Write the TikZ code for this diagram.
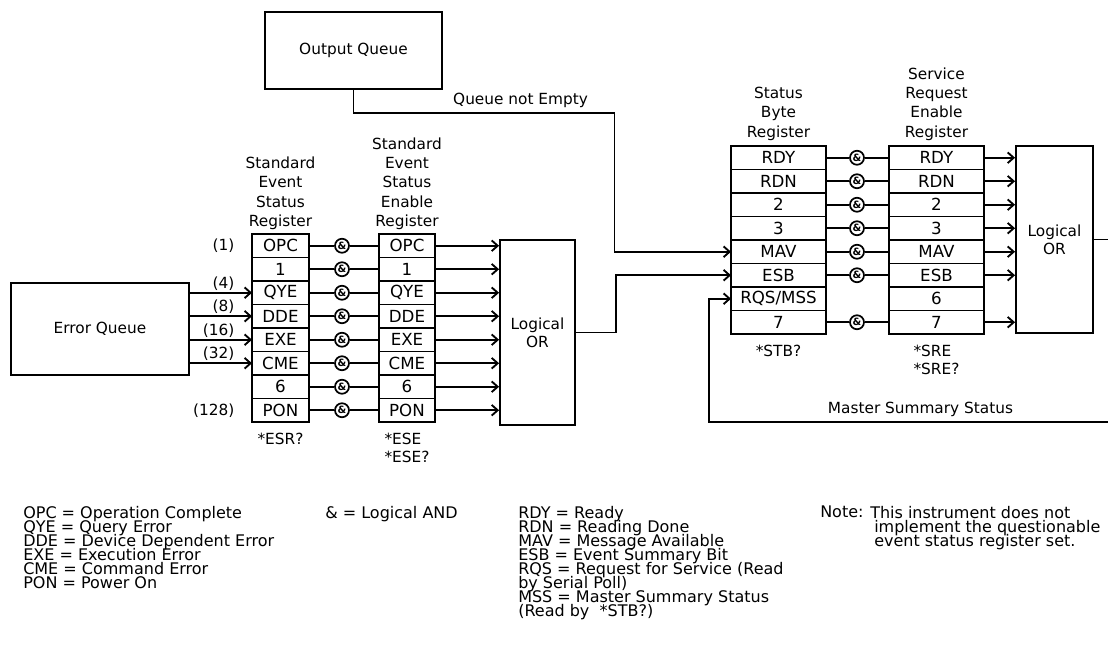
\documentclass[tikz,border=0pt]{standalone}
\usepackage{fontspec}
\setmainfont{DejaVu Sans}
\usepackage{tikz}
\usetikzlibrary{arrows.meta, positioning}
\newcommand{\legendfont}{\fontsize{12}{10.5}\selectfont\lineskiplimit=-6pt\relax}

\begin{document}
\begin{tikzpicture}[
    x=0.75pt, y=-0.75pt,
    font=\fontsize{11.5}{13.5}\selectfont,
    box/.style={rectangle, draw, line width=1.4pt, align=center, inner sep=0pt},
    cell/.style={rectangle, draw, line width=1.4pt, minimum height=17.6pt, inner sep=0pt, outer sep=0pt, font=\fontsize{12.5}{13.5}\selectfont},
    andgate/.style={circle, draw, line width=1.3pt, minimum size=10.5pt, inner sep=0pt, font=\fontsize{7.5}{7.5}\selectfont\bfseries},
    head/.style={align=center, inner sep=1pt, font=\fontsize{11.5}{14.5}\selectfont},
    query/.style={align=left, inner sep=1pt, font=\fontsize{11.5}{14}\selectfont},
    weight/.style={inner sep=1pt},
    legend/.style={align=left, anchor=north west, inner sep=0pt, font=\legendfont},
    line/.style={line width=1.4pt},
    arrow/.style={-{Straight Barb[length=4.5pt, width=8pt, line width=1.4pt]}, line width=1.4pt}
]
\useasboundingbox (0,0) rectangle (1108,656);

\node (oq) [box, minimum width=132.75pt, minimum height=57.75pt] at (353.5,50.5) {Output Queue};
\node (eq) [box, minimum width=133.5pt, minimum height=69pt] at (100,329) {Error Queue};
\node (orl) [box, minimum width=56.25pt, minimum height=138.75pt] at (537.5,332.5) {Logical\\OR};
\node (orr) [box, minimum width=57.75pt, minimum height=140.25pt] at (1054.5,239.5) {Logical\\OR};

\foreach \t [count=\i] in {OPC,1,QYE,DDE,EXE,CME,6,PON} {
    \node (sesr-\i) [cell, minimum width=42.75pt] at (280.5,{222.25+23.5*\i}) {\t};
    \node (seser-\i) [cell, minimum width=42pt] at (407,{222.25+23.5*\i}) {\t};
    \node (and-\i) [andgate] at (342,{222.25+23.5*\i}) {\&};
    \draw [line] (sesr-\i) -- (and-\i) -- (seser-\i);
    \draw [arrow] (seser-\i.east) -- (seser-\i.east -| orl.west);
}

\foreach \s/\e [count=\i] in {RDY/RDY,RDN/RDN,2/2,3/3,MAV/MAV,ESB/ESB,{RQS/MSS}/6,7/7} {
    \node (sbr-\i) [cell, minimum width=71.25pt] at (778.5,{134.25+23.5*\i}) {\s};
    \node (srer-\i) [cell, minimum width=71.25pt] at (936.5,{134.25+23.5*\i}) {\e};
}
\foreach \i in {1,...,6,8} {
    \node (sand-\i) [andgate] at (857,{134.25+23.5*\i}) {\&};
    \draw [line] (sbr-\i) -- (sand-\i) -- (srer-\i);
    \draw [arrow] (srer-\i.east) -- (srer-\i.east -| orr.west);
}

\foreach \i/\w in {3/4,4/8,5/16,6/32} {
    \draw [arrow] (sesr-\i.west -| eq.east) -- (sesr-\i.west);
    \node (w\w) [weight, anchor=south east] at ([xshift=-12pt, yshift=0.5pt]sesr-\i.west) {(\w)};
}
\node (w1) [weight, anchor=east] at ([xshift=-12pt]sesr-1.west) {(1)};
\node (w128) [weight, anchor=east] at ([xshift=-12pt]sesr-8.west) {(128)};

\node (sesrhead) [head, above=2pt of sesr-1] {Standard\\Event\\Status\\Register};
\node (seserhead) [head, above=2pt of seser-1] {Standard\\Event\\Status\\Enable\\Register};
\node (sbrhead) [head, above=3pt of sbr-1] {Status\\Byte\\Register};
\node (srerhead) [head, above=3pt of srer-1] {Service\\Request\\Enable\\Register};

\node (esrq) [query, below=7pt of sesr-8] {*ESR?};
\node (eseq) [query, below=7pt of seser-8] {*ESE\\*ESE?};
\node (stbq) [query, below=7pt of sbr-8] {*STB?};
\node (sreq) [query, below=7pt of srer-8] {*SRE\\*SRE?};

\coordinate (orout) at (1108,239.5);
\coordinate (mssin) at (1108,422);
\draw [arrow] (oq.south) -- ++(0,23) -- node[above, pos=0.64] (qne) {Queue not Empty} ++(261,0) |- (sbr-5.west);
\draw [arrow] (orl.east) -- ++(40,0) |- (sbr-6.west);
\draw [line] (orr.east) -- (orout);
\draw [arrow] (mssin) -- node[above, pos=0.47] (mss) {Master Summary Status} ++(-399,0) |- (sbr-7.west);

\node (leg1) [legend] at (23,506) {OPC = Operation Complete\\QYE = Query Error\\DDE = Device Dependent Error\\EXE = Execution Error\\CME = Command Error\\PON = Power On};
\node (leg2) [legend] at (325,506) {\& = Logical AND};
\node (leg3) [legend] at (518,506) {RDY = Ready\\RDN = Reading Done\\MAV = Message Available\\ESB = Event Summary Bit\\RQS = Request for Service (Read\\by Serial Poll)\\MSS = Master Summary Status\\(Read by \ *STB?)};
\node (note) [legend] at (820,506) {Note:};
\node (notetext) [legend] at (870,506) {This instrument does not\\\hspace*{3pt}implement the questionable\\\hspace*{3pt}event status register set.};
\end{tikzpicture}
\end{document}
